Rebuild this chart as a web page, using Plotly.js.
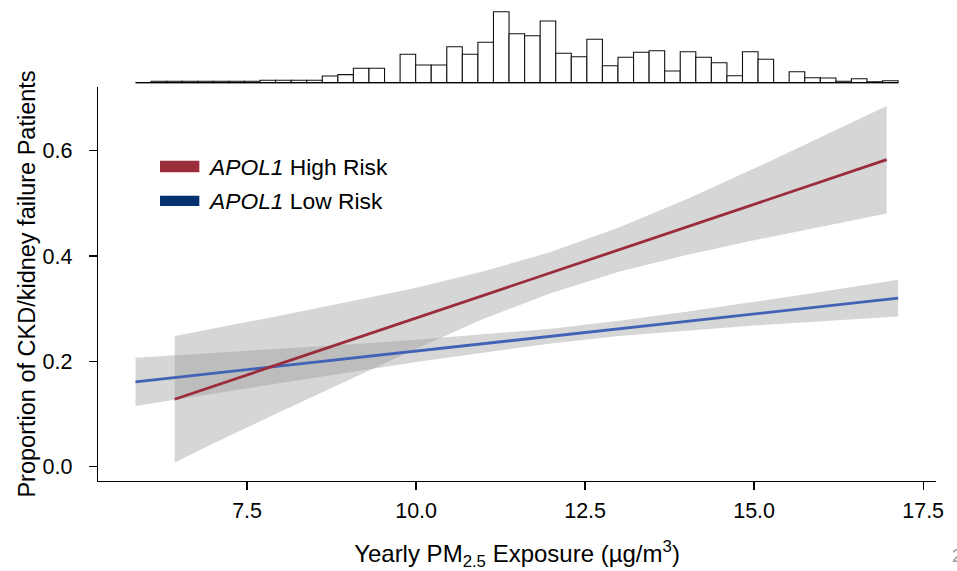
<!DOCTYPE html>
<html>
<head>
<meta charset="utf-8">
<script src="https://cdn.plot.ly/plotly-3.0.1.min.js"></script>
<style>html,body{margin:0;padding:0;background:#fff;}#chart{width:957px;height:571px;}</style>
</head>
<body>
<div id="chart"></div>
<script>
// ---- Data ----
// Fitted lines (linear fits): endpoints
const highX = [6.43, 16.96];
const highY = [0.128, 0.583];
const lowX = [5.85, 17.13];
const lowY = [0.161, 0.320];

// Confidence bands (estimated edges)
const highBandX = [6.43, 7, 8, 9, 10, 11, 12, 13, 14, 15, 16, 16.96];
const highBandUpper = [0.248, 0.262, 0.287, 0.313, 0.340, 0.371, 0.408, 0.454, 0.508, 0.566, 0.626, 0.685];
const highBandLower = [0.008, 0.044, 0.105, 0.165, 0.224, 0.281, 0.330, 0.370, 0.402, 0.430, 0.456, 0.481];

const lowBandX = [5.85, 7, 8, 9, 10, 11, 12, 13, 14, 15, 16, 17.13];
const lowBandUpper = [0.207, 0.216, 0.224, 0.232, 0.241, 0.251, 0.262, 0.277, 0.294, 0.313, 0.332, 0.355];
const lowBandLower = [0.115, 0.138, 0.159, 0.179, 0.199, 0.217, 0.234, 0.248, 0.258, 0.268, 0.276, 0.285];

// Marginal histogram of PM2.5 exposure
const histStart = 5.85;
const histBinWidth = 0.2302;
const histCounts = [0, 2, 2, 2, 2, 2, 2, 2, 3, 3, 3, 3, 7.3, 8.7, 15, 15, 0, 29, 18.3, 18.3, 36.5,
  29, 41, 71.6, 49.6, 47.6, 62.3, 30, 26.6, 44, 17.6, 26, 31, 32.6, 12.3, 31.6, 26, 20.6, 7.6,
  31.6, 24, 0, 11.6, 5.6, 5.3, 2, 4.6, 1.5, 2.6];

const xTicks = [7.5, 10.0, 12.5, 15.0, 17.5];
const yTicks = [0.0, 0.2, 0.4, 0.6];
const seriesNames = ['<i>APOL1</i> High Risk', '<i>APOL1</i> Low Risk'];

// ---- Build traces ----
const FONT = '"Liberation Sans", Arial, Helvetica, sans-serif';
const bandFill = 'rgba(153,153,153,0.4)';
function bandPoly(xs, up, lo) {
  return {
    x: xs.concat(xs.slice().reverse()),
    y: up.concat(lo.slice().reverse())
  };
}
const hb = bandPoly(highBandX, highBandUpper, highBandLower);
const lb = bandPoly(lowBandX, lowBandUpper, lowBandLower);
const histCenters = histCounts.map((c, i) => histStart + (i + 0.5) * histBinWidth);
const histMax = Math.max.apply(null, histCounts);

const traces = [
  {x: hb.x, y: hb.y, type: 'scatter', mode: 'lines', fill: 'toself', fillcolor: bandFill,
   line: {width: 0}, hoverinfo: 'skip', showlegend: false},
  {x: lb.x, y: lb.y, type: 'scatter', mode: 'lines', fill: 'toself', fillcolor: bandFill,
   line: {width: 0}, hoverinfo: 'skip', showlegend: false},
  {x: lowX, y: lowY, type: 'scatter', mode: 'lines', line: {color: '#4262b6', width: 2.8},
   name: seriesNames[1], showlegend: false},
  {x: highX, y: highY, type: 'scatter', mode: 'lines', line: {color: '#9b2c3b', width: 2.8},
   name: seriesNames[0], showlegend: false},
  {x: histCenters, y: histCounts, type: 'bar', xaxis: 'x2', yaxis: 'y2', width: histBinWidth,
   marker: {color: '#ffffff', line: {color: '#111111', width: 1.1}}, showlegend: false, hoverinfo: 'skip'}
];

// layout geometry (paper px)
const W = 957, H = 571;
const mL = 98, mR = 21.3, mT = 8, mB = 90;
const plotW = W - mL - mR, plotH = H - mT - mB;
function px2fx(px) { return (px - mL) / plotW; }
function py2fy(py) { return (H - mB - py) / plotH; }

const mainTop = py2fy(87);
const histBase = py2fy(83.3);
const xRange = [5.295, 17.69];

const layout = {
  width: W, height: H,
  margin: {l: mL, r: mR, t: mT, b: mB, pad: 0},
  paper_bgcolor: '#ffffff', plot_bgcolor: 'rgba(0,0,0,0)',
  font: {family: FONT, size: 21, color: '#000000'},
  showlegend: false,
  bargap: 0,
  xaxis: {
    domain: [0, 1], range: xRange, anchor: 'y',
    showgrid: false, zeroline: false, showline: true, linecolor: '#000000', linewidth: 1.3,
    ticks: 'outside', ticklen: 8, tickwidth: 1.3, tickcolor: '#000000',
    tickvals: xTicks, ticktext: xTicks.map(v => v.toFixed(1)), ticklabelstandoff: 2,
    tickfont: {family: FONT, size: 21.5, color: '#000000'},
    title: {text: 'Yearly PM<sub>2.5</sub> Exposure (µg/m<sup>3</sup>)', standoff: 23,
            font: {family: FONT, size: 24, color: '#000000'}}
  },
  yaxis: {
    domain: [0, mainTop], range: [-0.0272, 0.721], anchor: 'x',
    showgrid: false, zeroline: false, showline: true, linecolor: '#000000', linewidth: 1.3,
    ticks: 'outside', ticklen: 8, tickwidth: 1.3, tickcolor: '#000000',
    tickvals: yTicks, ticktext: yTicks.map(v => v.toFixed(1)), ticklabelstandoff: 12,
    tickfont: {family: FONT, size: 21.5, color: '#000000'},
    title: {text: 'Proportion of CKD/kidney failure Patients', standoff: 0,
            font: {family: FONT, size: 23.5, color: '#000000'}}
  },
  xaxis2: {domain: [0, 1], range: xRange, anchor: 'y2', visible: false},
  yaxis2: {domain: [histBase, 1], range: [0, histMax * (83.3 - 8) / 71.6], anchor: 'x2', visible: false},
  shapes: [
    {type: 'line', xref: 'x2', yref: 'y2', x0: histStart, x1: histStart + histCounts.length * histBinWidth,
     y0: 0, y1: 0, line: {color: '#000000', width: 2.6}},
    {type: 'rect', xref: 'paper', yref: 'paper', x0: px2fx(160), x1: px2fx(199.3), y0: py2fy(172.3), y1: py2fy(160.7),
     fillcolor: '#9a2e3b', line: {width: 0}},
    {type: 'rect', xref: 'paper', yref: 'paper', x0: px2fx(160), x1: px2fx(199.3), y0: py2fy(206), y1: py2fy(195.7),
     fillcolor: '#03306e', line: {width: 0}}
  ],
  annotations: [
    {xref: 'paper', yref: 'paper', x: px2fx(206), y: py2fy(166.5), xanchor: 'left', yanchor: 'middle',
     text: seriesNames[0], showarrow: false, font: {family: FONT, size: 22.8, color: '#000000'}},
    {xref: 'paper', yref: 'paper', x: px2fx(206), y: py2fy(201), xanchor: 'left', yanchor: 'middle',
     text: seriesNames[1], showarrow: false, font: {family: FONT, size: 22.8, color: '#000000'}},
    {xref: 'paper', yref: 'paper', x: px2fx(950), y: py2fy(556), xanchor: 'left', yanchor: 'middle',
     text: '2', showarrow: false, font: {family: FONT, size: 18, color: '#9a9a9a'}}
  ]
};

Plotly.newPlot('chart', traces, layout, {displayModeBar: false, staticPlot: true});
</script>
</body>
</html>
